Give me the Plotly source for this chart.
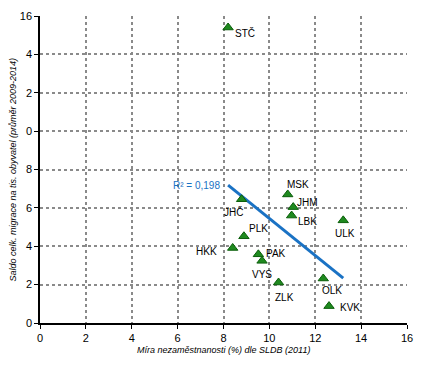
import numpy as np
import plotly.graph_objects as go

regions = ["STČ", "JHČ", "MSK", "JHM", "LBK", "ULK", "PLK", "HKK", "PAK", "VYS", "ZLK", "OLK", "KVK"]
unemployment = [8.2, 8.79, 10.8, 11.04, 10.97, 13.22, 8.89, 8.4, 9.52, 9.68, 10.4, 12.35, 12.6]
migration = [15.4, 6.45, 6.7, 6.04, 5.6, 5.35, 4.52, 3.91, 3.58, 3.24, 2.11, 2.32, 0.88]
tick_vals = [0, 2, 4, 6, 8, 10, 12, 14, 16]
y_tick_text = ["0", "2", "4", "6", "8", "0", "2", "4", "16"]
x_tick_text = ["0", "2", "4", "6", "8", "10", "12", "14", "16"]
r2_text = "R² = 0,198"

# label offsets in pixels (style only)
label_dx = [17, -8, 10, 14, 16, 2, 15, -26, 18, 0, 6, 9, 21]
label_dy = [5, 13, -10, -5, 6, 13, -8, 4, -1, 14, 15, 12, 1]

xa = np.array(unemployment)
ya = np.array(migration)
slope, intercept = np.polyfit(xa, ya, 1)
tx = np.array([xa.min(), xa.max()])
ty = slope * tx + intercept

FONT = "Liberation Sans, Arial"

fig = go.Figure()
fig.add_trace(go.Scatter(x=tx, y=ty, mode="lines",
                         line=dict(color="#1a72c4", width=3), hoverinfo="skip"))
fig.add_trace(go.Scatter(x=unemployment, y=migration, mode="markers",
                         marker=dict(symbol="triangle-up", size=9, color="#1f8a1f",
                                     line=dict(color="#0b5e0b", width=1))))

ann = []
for name, x, y, dx, dy in zip(regions, unemployment, migration, label_dx, label_dy):
    ann.append(dict(x=x, y=y, xref="x", yref="y", text=name, showarrow=False,
                    xshift=dx, yshift=-dy, font=dict(family=FONT, size=10, color="black")))
ann.append(dict(x=tx[0], y=ty[0], xref="x", yref="y", text=r2_text, showarrow=False,
                xanchor="right", xshift=-6, yshift=0,
                font=dict(family=FONT, size=10, color="#1a72c4")))
ann.append(dict(x=0.5, y=0, xref="paper", yref="paper", yanchor="top", yshift=-20,
                text="<i>Míra nezaměstnanosti (%) dle SLDB (2011)</i>", showarrow=False,
                font=dict(family=FONT, size=9, color="black")))
ann.append(dict(x=0, y=0.5, xref="paper", yref="paper", xanchor="center", xshift=-28,
                text="<i>Saldo celk. migrace na tis. obyvatel (průměr 2009-2014)</i>", showarrow=False,
                textangle=-90, font=dict(family=FONT, size=9, color="black")))

axis_common = dict(range=[0, 16], tickvals=tick_vals, showgrid=True, griddash="dot",
                   gridcolor="#8a8a8a", gridwidth=2, zeroline=False, showline=True,
                   linecolor="black", linewidth=1.5, ticks="outside", ticklen=4,
                   tickcolor="black", tickfont=dict(family=FONT, size=11, color="black"),
                   automargin=False)

fig.update_layout(
    width=420, height=366,
    margin=dict(l=32, r=21, t=8, b=51),
    paper_bgcolor="white", plot_bgcolor="white",
    showlegend=False,
    annotations=ann,
    xaxis=dict(**axis_common, ticktext=x_tick_text),
    yaxis=dict(**axis_common, ticktext=y_tick_text),
)
fig.write_html("out.html")
